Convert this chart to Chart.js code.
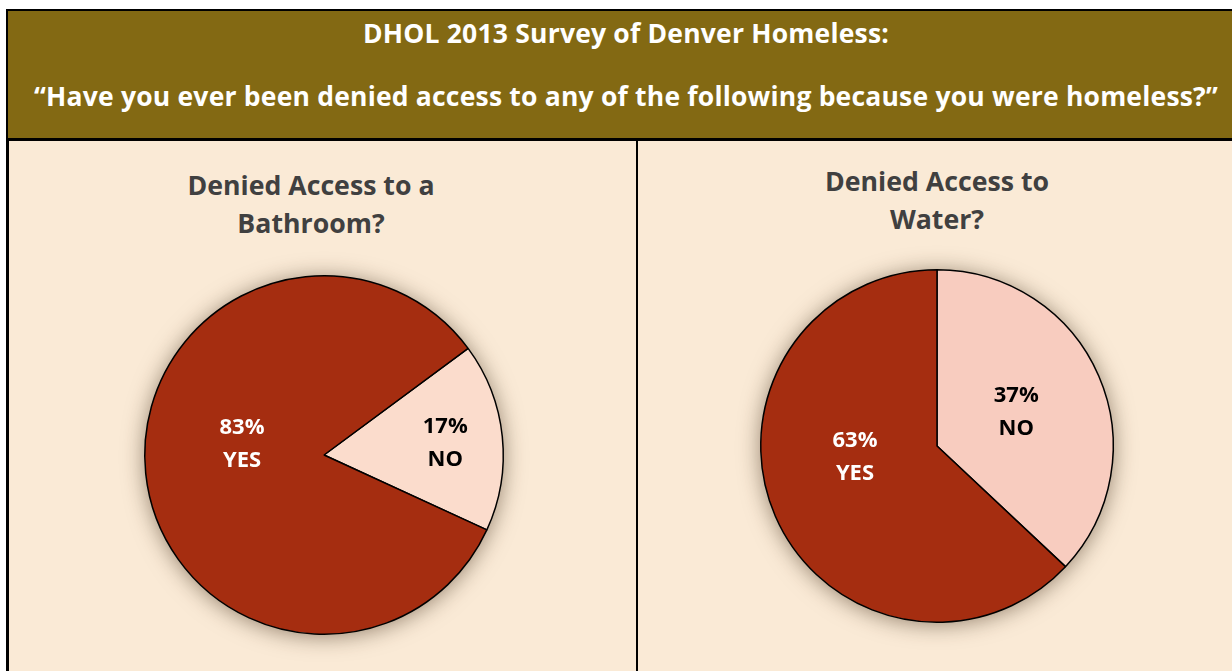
<!DOCTYPE html>
<html>
<head>
<meta charset="utf-8">
<script src="https://cdn.jsdelivr.net/npm/chart.js@4/dist/chart.umd.min.js"></script>
<style>
  html, body { margin: 0; padding: 0; background: #fff; }
  body { width: 1232px; height: 671px; position: relative; overflow: hidden; font-family: "Open Sans", sans-serif; }
  #frame { position: absolute; left: 6px; top: 9px; width: 1240px; height: 680px; border: 3px solid #000; box-sizing: border-box; }
  #header { position: absolute; left: 8px; top: 11px; width: 1230px; height: 127px; background: #836913; border-bottom: 3px solid #000; }
  .hline { position: absolute; left: 0; width: 1236px; text-align: center; color: #fff; font-weight: bold; font-size: 26.5px; letter-spacing: 0.2px; }
  .panel { position: absolute; top: 141px; height: 540px; background: #faead6; }
  #divider { position: absolute; left: 636px; top: 141px; width: 2px; height: 540px; background: #000; }
  .ptitle { position: absolute; text-align: center; color: #404040; font-weight: bold; font-size: 26.7px; line-height: 38px; }
  canvas { position: absolute; }
</style>
</head>
<body>
<div id="frame"></div>
<div id="header">
  <div class="hline" style="top:4px">DHOL 2013 Survey of Denver Homeless:</div>
  <div class="hline" style="top:67px">“Have you ever been denied access to any of the following because you were homeless?”</div>
</div>
<div class="panel" style="left:9px; width:627px"></div>
<div class="panel" style="left:638px; width:600px"></div>
<div id="divider"></div>
<div class="ptitle" style="left:111px; width:400px; top:166px">Denied Access to a<br>Bathroom?</div>
<div class="ptitle" style="left:737px; width:400px; top:162px">Denied Access to<br>Water?</div>
<canvas id="bathroom" width="420" height="420" style="left:114px; top:245px; width:420px; height:420px"></canvas>
<canvas id="water" width="414" height="414" style="left:730px; top:239px; width:414px; height:414px"></canvas>

<script>
// answers in slice order (NO first, clockwise)
const answers       = ["NO", "YES"];
const bathroomShare = [17, 83];
const waterShare    = [37, 63];

const yesColor = "#a52d10";

// soft shadow behind the whole pie
const pieShadow = {
    id: "pieShadow",
    beforeDatasetsDraw(chart) {
        const arc = chart.getDatasetMeta(0).data[0];
        if (!arc) return;
        const ctx = chart.ctx;
        ctx.save();
        ctx.shadowColor   = "rgba(60,40,20,0.55)";
        ctx.shadowBlur    = 22;
        ctx.shadowOffsetX = 0;
        ctx.shadowOffsetY = 2;
        ctx.fillStyle = "#faead6";
        ctx.beginPath();
        ctx.arc(arc.x, arc.y, arc.outerRadius, 0, Math.PI * 2);
        ctx.fill();
        ctx.restore();
    }
};

// percentage + answer inside each slice
const sliceLabels = {
    id: "sliceLabels",
    afterDatasetsDraw(chart, args, opts) {
        const ctx  = chart.ctx;
        const data = chart.data.datasets[0].data;
        chart.getDatasetMeta(0).data.forEach((arc, i) => {
            const mid  = (arc.startAngle + arc.endAngle) / 2;
            const frac = opts.radiusFrac[i];
            const x = arc.x + Math.cos(mid) * arc.outerRadius * frac + opts.shiftX[i];
            const y = arc.y + Math.sin(mid) * arc.outerRadius * frac + opts.shiftY[i];
            ctx.save();
            ctx.fillStyle    = opts.colors[i];
            ctx.font         = "bold 22px 'Open Sans', sans-serif";
            ctx.textAlign    = "center";
            ctx.textBaseline = "middle";
            ctx.fillText(data[i] + "%", x, y - 16);
            ctx.fillText(chart.data.labels[i], x, y + 17);
            ctx.restore();
        });
    }
};

function makePie(id, values, noColor, rotation, labelOpts) {
    new Chart(document.getElementById(id), {
        type: "pie",
        data: {
            labels: answers,
            datasets: [{
                data:            values,
                backgroundColor: [noColor, yesColor],
                borderColor:     "#000",
                borderWidth:     1.5,
                borderAlign:     "center",
            }]
        },
        options: {
            responsive:  false,
            animation:   false,
            rotation:    rotation,
            layout:      { padding: 30 },
            plugins: {
                legend:  { display: false },
                tooltip: { enabled: false },
                sliceLabels: labelOpts,
            }
        },
        plugins: [pieShadow, sliceLabels]
    });
}

makePie("bathroom", bathroomShare, "#fbdccc", 53.5,
    { radiusFrac: [0.68, 0.46], shiftX: [0, 0], shiftY: [0, -20], colors: ["#000", "#fff"] });
makePie("water", waterShare, "#f8ccbf", 0,
    { radiusFrac: [0.49, 0.47], shiftX: [0, -6], shiftY: [0, -22], colors: ["#000", "#fff"] });
</script>
</body>
</html>
